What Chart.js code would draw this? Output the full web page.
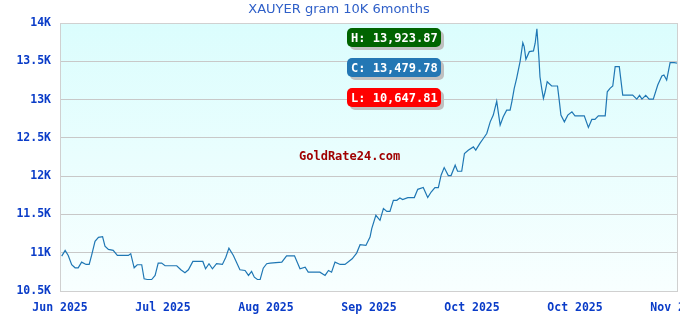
<!DOCTYPE html>
<html>
<head>
<meta charset="utf-8">
<script src="https://cdn.jsdelivr.net/npm/chart.js@4"></script>
<style>
    html, body { margin: 0; padding: 0; background: #ffffff; }
    #chart { display: block; }
</style>
</head>
<body>
<canvas id="chart" width="680" height="320"></canvas>
<script>
// day offset from the start of the 6 month window, and the price read at that day
const days = [
    0.5, 1.5, 2.4, 3.4, 4.4, 5.3, 6.3, 7.6, 8.5, 9.2,
    10.2, 11.2, 12.4, 13.1, 14.1, 15.5, 16.7, 18.4, 19.9, 20.6,
    21.6, 22.5, 23.8, 24.5, 25.4, 26.7, 27.7, 28.6, 29.6, 30.6,
    32.0, 34.0, 35.2, 36.4, 37.4, 38.7, 40.3, 41.6, 42.4, 43.4,
    44.4, 45.6, 47.3, 48.3, 49.2, 50.5, 52.4, 53.9, 54.9, 55.8,
    56.6, 57.5, 58.3, 59.2, 60.2, 61.2, 64.6, 66.0, 68.3, 69.9,
    71.4, 72.3, 75.7, 77.2, 78.2, 79.1, 80.1, 81.6, 83.0, 85.1,
    86.4, 87.4, 89.1, 90.3, 90.8, 92.0, 93.2, 94.2, 95.2, 96.1,
    97.1, 98.1, 99.0, 99.8, 101.3, 103.2, 104.2, 105.8, 107.1, 108.1,
    109.2, 110.2, 111.0, 111.9, 113.1, 113.9, 115.1, 115.8, 117.0, 117.8,
    118.9, 120.4, 121.1, 122.3, 123.3, 124.3, 125.3, 126.2, 127.2, 127.7,
    128.2, 129.1, 130.1, 131.1, 131.6, 132.3, 133.0, 134.0, 134.8, 135.2,
    135.7, 136.7, 137.9, 138.4, 138.9, 139.1, 139.5, 139.8, 140.3, 140.8,
    141.3, 141.9, 143.2, 144.9, 145.4, 145.9, 146.9, 147.9, 149.1, 150.0,
    151.5, 152.7, 153.9, 154.9, 155.8, 156.8, 158.8, 159.4, 160.2, 161.0,
    161.7, 162.9, 163.9, 165.1, 166.8, 168.0, 168.8, 169.5, 170.6, 171.6,
    172.8, 174.1, 175.3, 175.9, 176.7, 177.7, 178.9, 179.9
];
const prices = [
    10955, 11030, 10964, 10843, 10803, 10803, 10877, 10847, 10847, 10964,
    11148, 11200, 11209, 11086, 11043, 11030, 10964, 10964, 10964, 10987,
    10803, 10843, 10843, 10659, 10650, 10650, 10703, 10864, 10864, 10830,
    10830, 10830, 10777, 10738, 10777, 10886, 10886, 10886, 10790, 10856,
    10790, 10856, 10847, 10942, 11060, 10964, 10777, 10768, 10703, 10755,
    10680, 10650, 10650, 10798, 10856, 10864, 10877, 10960, 10960, 10790,
    10811, 10746, 10746, 10703, 10768, 10746, 10877, 10847, 10847, 10921,
    10995, 11104, 11095, 11204, 11314, 11488, 11423, 11576, 11540, 11540,
    11684, 11684, 11714, 11694, 11720, 11720, 11828, 11851, 11720, 11793,
    11851, 11851, 12012, 12112, 12008, 12008, 12143, 12064, 12064, 12296,
    12339, 12382, 12339, 12427, 12492, 12557, 12709, 12797, 12980, 12819,
    12666, 12775, 12862, 12862, 12971, 13147, 13277, 13495, 13743, 13691,
    13526, 13626, 13635, 13736, 13924, 13801, 13539, 13298, 13147, 13016,
    13102, 13233, 13177, 13177, 12993, 12797, 12709, 12797, 12840, 12788,
    12788, 12788, 12636, 12741, 12741, 12788, 12788, 13102, 13147, 13177,
    13429, 13429, 13059, 13059, 13059, 13006, 13055, 13006, 13055, 13006,
    13006, 13190, 13308, 13321, 13255, 13482, 13482, 13474
];
const xTickDays = [0, 30, 60, 90, 120, 150, 180];
const xTickLabels = ["Jun 2025", "Jul 2025", "Aug 2025", "Sep 2025", "Oct 2025", "Oct 2025", "Nov 2025"];
const highValue = "13,923.87";
const closeValue = "13,479.78";
const lowValue = "10,647.81";

const tickFont = { family: "'DejaVu Sans Mono', monospace", size: 11.5, weight: "bold" };
const tickColor = "#0a3cc8";

// plot background gradient and grey frame
const plotBackground = {
    id: "plotBackground",
    beforeDraw(chart) {
        const { ctx, chartArea: a } = chart;
        const grad = ctx.createLinearGradient(0, a.top, 0, a.bottom);
        grad.addColorStop(0, "#dbfdfd");
        grad.addColorStop(1, "#f8ffff");
        ctx.save();
        ctx.fillStyle = grad;
        ctx.fillRect(a.left, a.top, a.right - a.left, a.bottom - a.top);
        ctx.restore();
    },
    afterDraw(chart) {
        const { ctx, chartArea: a } = chart;
        ctx.save();
        ctx.strokeStyle = "#d0d0d0";
        ctx.lineWidth = 1;
        ctx.strokeRect(a.left + 0.5, a.top + 0.5, a.right - a.left - 1, a.bottom - a.top);
        ctx.restore();
    }
};

// H / C / L badges and the site watermark
const badges = {
    id: "badges",
    afterDraw(chart) {
        const ctx = chart.ctx;
        const items = [
            { text: "H: " + highValue, color: "#006400", y: 28 },
            { text: "C: " + closeValue, color: "#2377b4", y: 58 },
            { text: "L: " + lowValue, color: "#ff0000", y: 88 }
        ];
        ctx.save();
        items.forEach(b => {
            const x = 347, w = 94, h = 19;
            ctx.fillStyle = "#c0c0c0";
            ctx.beginPath();
            ctx.roundRect(x + 3, b.y + 3, w, h, 5);
            ctx.fill();
            ctx.fillStyle = b.color;
            ctx.beginPath();
            ctx.roundRect(x, b.y, w, h, 5);
            ctx.fill();
            ctx.fillStyle = "#ffffff";
            ctx.font = "bold 12px 'DejaVu Sans Mono', monospace";
            ctx.textAlign = "left";
            ctx.textBaseline = "middle";
            ctx.fillText(b.text, x + 4, b.y + h / 2 + 1);
        });
        ctx.fillStyle = "#a00000";
        ctx.font = "bold 12px 'DejaVu Sans Mono', monospace";
        ctx.textAlign = "left";
        ctx.textBaseline = "middle";
        ctx.fillText("GoldRate24.com", 299, 157);
        ctx.restore();
    }
};

new Chart(document.getElementById("chart"), {
    type: "line",
    data: {
        datasets: [{
            data: days.map((d, i) => ({ x: d, y: prices[i] })),
            borderColor: "#1f77b4",
            borderWidth: 1.2,
            pointRadius: 0,
            tension: 0,
            fill: false
        }]
    },
    options: {
        responsive: false,
        animation: false,
        devicePixelRatio: 1,
        layout: { autoPadding: false, padding: { right: 2 } },
        plugins: {
            legend: { display: false },
            tooltip: { enabled: false },
            title: {
                display: true,
                text: "XAUYER gram 10K 6months",
                color: "#3060c8",
                font: { family: "'DejaVu Sans', sans-serif", size: 13, weight: "normal" },
                padding: { top: 2, bottom: 5.4 }
            }
        },
        scales: {
            x: {
                type: "linear",
                min: 0,
                max: 180,
                afterBuildTicks: scale => {
                    scale.ticks = xTickDays.map(v => ({ value: v }));
                },
                afterFit: scale => {
                    scale.height = 29;
                    scale.paddingLeft = 0;
                    scale.paddingRight = 0;
                },
                ticks: {
                    autoSkip: false,
                    maxRotation: 0,
                    padding: 10,
                    color: tickColor,
                    font: tickFont,
                    callback: value => xTickLabels[xTickDays.indexOf(value)]
                },
                grid: { display: false, drawTicks: false },
                border: { display: false }
            },
            y: {
                min: 10500,
                max: 14000,
                afterFit: scale => {
                    scale.width = 60;
                    scale.paddingTop = 0;
                    scale.paddingBottom = 0;
                },
                ticks: {
                    stepSize: 500,
                    padding: 9,
                    color: tickColor,
                    font: tickFont,
                    callback: value => (value / 1000) + "K"
                },
                grid: { color: "#c8c8c8", lineWidth: 1, drawTicks: false },
                border: { display: false }
            }
        }
    },
    plugins: [plotBackground, badges]
});
</script>
</body>
</html>
